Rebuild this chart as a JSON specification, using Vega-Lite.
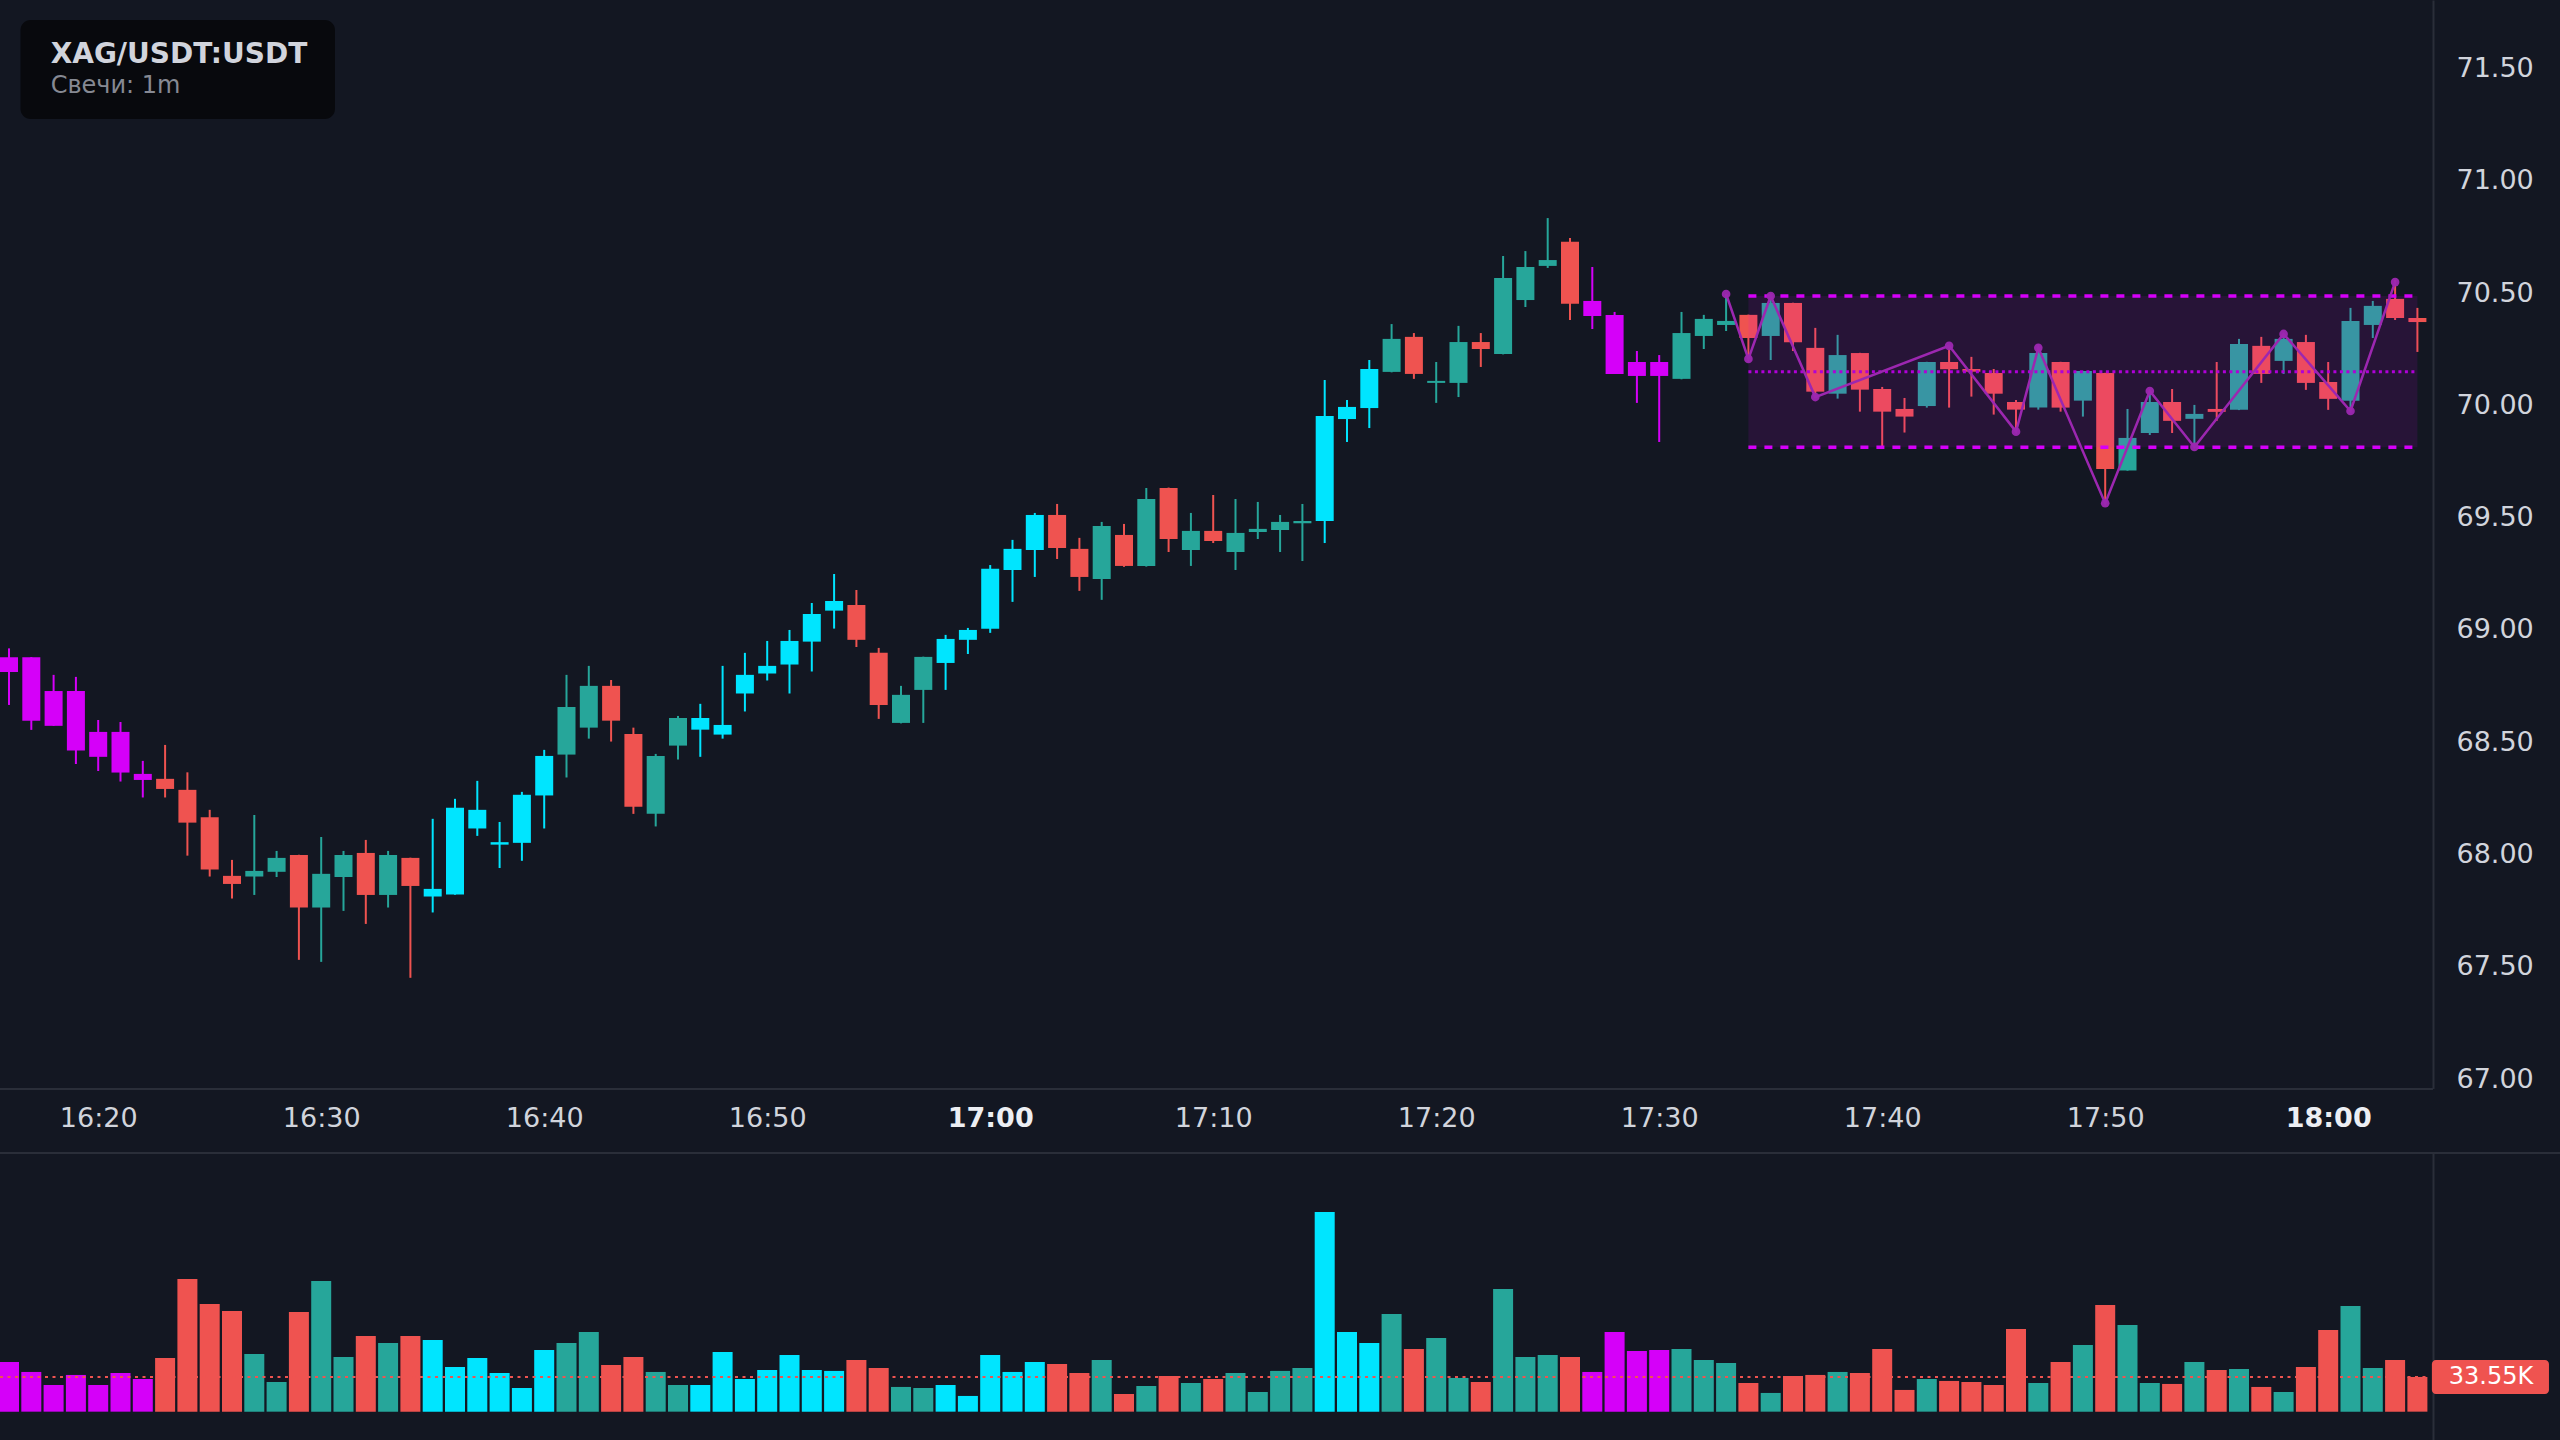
{
"$schema": "https://vega.github.io/schema/vega-lite/v6.json",
"width": 2560,
"height": 1440,
"padding": 0,
"autosize": {"type": "none"},
"background": "#131722",
"config": {"view": {"stroke": null}, "font": "DejaVu Sans", "axis": {"labelFont": "DejaVu Sans"}, "text": {"font": "DejaVu Sans"}, "scale": {"continuousPadding": 0}},
"datasets": {
"candles": [
{"t":"2024-01-01T16:16","o":68.869,"h":68.909,"l":68.657,"c":68.804,"v":48.1,"k":"m"},
{"t":"2024-01-01T16:17","o":68.869,"h":68.870,"l":68.546,"c":68.587,"v":38.4,"k":"m"},
{"t":"2024-01-01T16:18","o":68.719,"h":68.791,"l":68.564,"c":68.564,"v":25.8,"k":"m"},
{"t":"2024-01-01T16:19","o":68.719,"h":68.782,"l":68.394,"c":68.454,"v":35.5,"k":"m"},
{"t":"2024-01-01T16:20","o":68.537,"h":68.590,"l":68.363,"c":68.426,"v":25.8,"k":"m"},
{"t":"2024-01-01T16:21","o":68.537,"h":68.581,"l":68.316,"c":68.356,"v":37.4,"k":"m"},
{"t":"2024-01-01T16:22","o":68.350,"h":68.408,"l":68.245,"c":68.323,"v":31.6,"k":"m"},
{"t":"2024-01-01T16:23","o":68.328,"h":68.479,"l":68.245,"c":68.283,"v":51.9,"k":"r"},
{"t":"2024-01-01T16:24","o":68.279,"h":68.357,"l":67.986,"c":68.133,"v":128.3,"k":"r"},
{"t":"2024-01-01T16:25","o":68.157,"h":68.190,"l":67.893,"c":67.924,"v":104.1,"k":"r"},
{"t":"2024-01-01T16:26","o":67.896,"h":67.967,"l":67.795,"c":67.860,"v":97.4,"k":"r"},
{"t":"2024-01-01T16:27","o":67.893,"h":68.167,"l":67.811,"c":67.918,"v":55.8,"k":"g"},
{"t":"2024-01-01T16:28","o":67.914,"h":68.007,"l":67.891,"c":67.976,"v":28.7,"k":"g"},
{"t":"2024-01-01T16:29","o":67.989,"h":67.990,"l":67.522,"c":67.755,"v":96.4,"k":"r"},
{"t":"2024-01-01T16:30","o":67.755,"h":68.069,"l":67.513,"c":67.905,"v":126.4,"k":"g"},
{"t":"2024-01-01T16:31","o":67.891,"h":68.007,"l":67.740,"c":67.989,"v":52.9,"k":"g"},
{"t":"2024-01-01T16:32","o":67.998,"h":68.056,"l":67.682,"c":67.811,"v":73.2,"k":"r"},
{"t":"2024-01-01T16:33","o":67.811,"h":68.007,"l":67.755,"c":67.989,"v":66.4,"k":"g"},
{"t":"2024-01-01T16:34","o":67.976,"h":67.977,"l":67.442,"c":67.851,"v":73.2,"k":"r"},
{"t":"2024-01-01T16:35","o":67.804,"h":68.150,"l":67.733,"c":67.838,"v":69.3,"k":"b"},
{"t":"2024-01-01T16:36","o":67.813,"h":68.239,"l":67.812,"c":68.199,"v":43.2,"k":"b"},
{"t":"2024-01-01T16:37","o":68.107,"h":68.319,"l":68.074,"c":68.190,"v":51.9,"k":"b"},
{"t":"2024-01-01T16:38","o":68.035,"h":68.136,"l":67.931,"c":68.046,"v":37.4,"k":"b"},
{"t":"2024-01-01T16:39","o":68.043,"h":68.270,"l":67.963,"c":68.257,"v":22.9,"k":"b"},
{"t":"2024-01-01T16:40","o":68.254,"h":68.457,"l":68.107,"c":68.430,"v":59.7,"k":"b"},
{"t":"2024-01-01T16:41","o":68.436,"h":68.791,"l":68.334,"c":68.648,"v":66.4,"k":"g"},
{"t":"2024-01-01T16:42","o":68.556,"h":68.831,"l":68.507,"c":68.742,"v":77.1,"k":"g"},
{"t":"2024-01-01T16:43","o":68.742,"h":68.768,"l":68.494,"c":68.587,"v":45.2,"k":"r"},
{"t":"2024-01-01T16:44","o":68.528,"h":68.556,"l":68.172,"c":68.204,"v":52.9,"k":"r"},
{"t":"2024-01-01T16:45","o":68.173,"h":68.439,"l":68.116,"c":68.430,"v":38.4,"k":"g"},
{"t":"2024-01-01T16:46","o":68.476,"h":68.608,"l":68.414,"c":68.599,"v":25.8,"k":"g"},
{"t":"2024-01-01T16:47","o":68.547,"h":68.662,"l":68.426,"c":68.599,"v":25.8,"k":"b"},
{"t":"2024-01-01T16:48","o":68.525,"h":68.831,"l":68.507,"c":68.568,"v":57.7,"k":"b"},
{"t":"2024-01-01T16:49","o":68.708,"h":68.889,"l":68.628,"c":68.791,"v":31.6,"k":"b"},
{"t":"2024-01-01T16:50","o":68.797,"h":68.942,"l":68.766,"c":68.831,"v":40.3,"k":"b"},
{"t":"2024-01-01T16:51","o":68.837,"h":68.991,"l":68.708,"c":68.942,"v":54.8,"k":"b"},
{"t":"2024-01-01T16:52","o":68.939,"h":69.111,"l":68.806,"c":69.062,"v":40.3,"k":"b"},
{"t":"2024-01-01T16:53","o":69.077,"h":69.240,"l":68.997,"c":69.120,"v":39.4,"k":"b"},
{"t":"2024-01-01T16:54","o":69.102,"h":69.169,"l":68.915,"c":68.947,"v":50.0,"k":"r"},
{"t":"2024-01-01T16:55","o":68.889,"h":68.911,"l":68.595,"c":68.657,"v":42.3,"k":"r"},
{"t":"2024-01-01T16:56","o":68.577,"h":68.742,"l":68.575,"c":68.702,"v":23.9,"k":"g"},
{"t":"2024-01-01T16:57","o":68.724,"h":68.872,"l":68.577,"c":68.871,"v":22.9,"k":"g"},
{"t":"2024-01-01T16:58","o":68.844,"h":68.969,"l":68.724,"c":68.951,"v":25.8,"k":"b"},
{"t":"2024-01-01T16:59","o":68.947,"h":69.000,"l":68.884,"c":68.991,"v":15.2,"k":"b"},
{"t":"2024-01-01T17:00","o":68.996,"h":69.280,"l":68.978,"c":69.263,"v":54.8,"k":"b"},
{"t":"2024-01-01T17:01","o":69.258,"h":69.392,"l":69.116,"c":69.352,"v":38.4,"k":"b"},
{"t":"2024-01-01T17:02","o":69.347,"h":69.512,"l":69.227,"c":69.503,"v":48.1,"k":"b"},
{"t":"2024-01-01T17:03","o":69.503,"h":69.552,"l":69.307,"c":69.356,"v":46.1,"k":"r"},
{"t":"2024-01-01T17:04","o":69.352,"h":69.401,"l":69.165,"c":69.227,"v":37.4,"k":"r"},
{"t":"2024-01-01T17:05","o":69.218,"h":69.472,"l":69.125,"c":69.454,"v":50.0,"k":"g"},
{"t":"2024-01-01T17:06","o":69.414,"h":69.463,"l":69.272,"c":69.276,"v":17.1,"k":"r"},
{"t":"2024-01-01T17:07","o":69.276,"h":69.623,"l":69.273,"c":69.574,"v":24.8,"k":"g"},
{"t":"2024-01-01T17:08","o":69.623,"h":69.625,"l":69.338,"c":69.396,"v":34.5,"k":"r"},
{"t":"2024-01-01T17:09","o":69.347,"h":69.512,"l":69.276,"c":69.432,"v":27.7,"k":"g"},
{"t":"2024-01-01T17:10","o":69.432,"h":69.592,"l":69.378,"c":69.387,"v":31.6,"k":"r"},
{"t":"2024-01-01T17:11","o":69.338,"h":69.574,"l":69.258,"c":69.423,"v":37.4,"k":"g"},
{"t":"2024-01-01T17:12","o":69.427,"h":69.561,"l":69.396,"c":69.441,"v":19.0,"k":"g"},
{"t":"2024-01-01T17:13","o":69.436,"h":69.503,"l":69.338,"c":69.472,"v":39.4,"k":"g"},
{"t":"2024-01-01T17:14","o":69.466,"h":69.552,"l":69.298,"c":69.476,"v":42.3,"k":"g"},
{"t":"2024-01-01T17:15","o":69.476,"h":70.104,"l":69.378,"c":69.944,"v":193.1,"k":"b"},
{"t":"2024-01-01T17:16","o":69.930,"h":70.015,"l":69.828,"c":69.984,"v":77.1,"k":"b"},
{"t":"2024-01-01T17:17","o":69.979,"h":70.193,"l":69.890,"c":70.153,"v":66.4,"k":"b"},
{"t":"2024-01-01T17:18","o":70.140,"h":70.353,"l":70.138,"c":70.287,"v":94.5,"k":"g"},
{"t":"2024-01-01T17:19","o":70.296,"h":70.313,"l":70.109,"c":70.131,"v":60.6,"k":"r"},
{"t":"2024-01-01T17:20","o":70.091,"h":70.184,"l":70.002,"c":70.100,"v":71.3,"k":"g"},
{"t":"2024-01-01T17:21","o":70.091,"h":70.345,"l":70.028,"c":70.273,"v":32.6,"k":"g"},
{"t":"2024-01-01T17:22","o":70.273,"h":70.313,"l":70.162,"c":70.242,"v":28.7,"k":"r"},
{"t":"2024-01-01T17:23","o":70.220,"h":70.656,"l":70.218,"c":70.558,"v":118.6,"k":"g"},
{"t":"2024-01-01T17:24","o":70.460,"h":70.678,"l":70.429,"c":70.607,"v":52.9,"k":"g"},
{"t":"2024-01-01T17:25","o":70.612,"h":70.825,"l":70.603,"c":70.638,"v":54.8,"k":"g"},
{"t":"2024-01-01T17:26","o":70.719,"h":70.736,"l":70.371,"c":70.443,"v":52.9,"k":"r"},
{"t":"2024-01-01T17:27","o":70.456,"h":70.607,"l":70.331,"c":70.389,"v":38.4,"k":"m"},
{"t":"2024-01-01T17:28","o":70.393,"h":70.407,"l":70.131,"c":70.131,"v":77.1,"k":"m"},
{"t":"2024-01-01T17:29","o":70.184,"h":70.233,"l":70.002,"c":70.122,"v":58.7,"k":"m"},
{"t":"2024-01-01T17:30","o":70.184,"h":70.215,"l":69.828,"c":70.122,"v":59.7,"k":"m"},
{"t":"2024-01-01T17:31","o":70.109,"h":70.407,"l":70.107,"c":70.313,"v":60.6,"k":"g"},
{"t":"2024-01-01T17:32","o":70.300,"h":70.394,"l":70.242,"c":70.376,"v":50.0,"k":"g"},
{"t":"2024-01-01T17:33","o":70.349,"h":70.487,"l":70.322,"c":70.367,"v":47.1,"k":"g"},
{"t":"2024-01-01T17:34","o":70.394,"h":70.395,"l":70.198,"c":70.291,"v":27.7,"k":"r"},
{"t":"2024-01-01T17:35","o":70.300,"h":70.478,"l":70.193,"c":70.447,"v":18.1,"k":"g"},
{"t":"2024-01-01T17:36","o":70.447,"h":70.448,"l":70.233,"c":70.272,"v":34.5,"k":"r"},
{"t":"2024-01-01T17:37","o":70.247,"h":70.336,"l":70.024,"c":70.052,"v":35.5,"k":"r"},
{"t":"2024-01-01T17:38","o":70.043,"h":70.305,"l":70.021,"c":70.215,"v":38.4,"k":"g"},
{"t":"2024-01-01T17:39","o":70.224,"h":70.225,"l":69.963,"c":70.061,"v":37.4,"k":"r"},
{"t":"2024-01-01T17:40","o":70.064,"h":70.073,"l":69.807,"c":69.963,"v":60.6,"k":"r"},
{"t":"2024-01-01T17:41","o":69.975,"h":70.024,"l":69.870,"c":69.941,"v":21.0,"k":"r"},
{"t":"2024-01-01T17:42","o":69.988,"h":70.185,"l":69.981,"c":70.184,"v":31.6,"k":"g"},
{"t":"2024-01-01T17:43","o":70.184,"h":70.256,"l":69.981,"c":70.152,"v":29.7,"k":"r"},
{"t":"2024-01-01T17:44","o":70.153,"h":70.207,"l":70.030,"c":70.141,"v":28.7,"k":"r"},
{"t":"2024-01-01T17:45","o":70.135,"h":70.153,"l":69.950,"c":70.043,"v":25.8,"k":"r"},
{"t":"2024-01-01T17:46","o":70.006,"h":70.015,"l":69.874,"c":69.972,"v":80.0,"k":"r"},
{"t":"2024-01-01T17:47","o":69.981,"h":70.247,"l":69.972,"c":70.224,"v":27.7,"k":"g"},
{"t":"2024-01-01T17:48","o":70.184,"h":70.185,"l":69.963,"c":69.981,"v":48.1,"k":"r"},
{"t":"2024-01-01T17:49","o":70.012,"h":70.145,"l":69.941,"c":70.144,"v":64.5,"k":"g"},
{"t":"2024-01-01T17:50","o":70.135,"h":70.136,"l":69.555,"c":69.708,"v":103.2,"k":"r"},
{"t":"2024-01-01T17:51","o":69.701,"h":69.975,"l":69.700,"c":69.846,"v":83.8,"k":"g"},
{"t":"2024-01-01T17:52","o":69.868,"h":70.055,"l":69.859,"c":70.006,"v":27.7,"k":"g"},
{"t":"2024-01-01T17:53","o":70.006,"h":70.064,"l":69.868,"c":69.922,"v":26.8,"k":"r"},
{"t":"2024-01-01T17:54","o":69.931,"h":69.993,"l":69.806,"c":69.953,"v":48.1,"k":"g"},
{"t":"2024-01-01T17:55","o":69.975,"h":70.184,"l":69.922,"c":69.962,"v":40.3,"k":"r"},
{"t":"2024-01-01T17:56","o":69.971,"h":70.287,"l":69.970,"c":70.264,"v":41.3,"k":"g"},
{"t":"2024-01-01T17:57","o":70.256,"h":70.296,"l":70.091,"c":70.131,"v":23.9,"k":"r"},
{"t":"2024-01-01T17:58","o":70.189,"h":70.309,"l":70.131,"c":70.287,"v":19.0,"k":"g"},
{"t":"2024-01-01T17:59","o":70.273,"h":70.305,"l":70.060,"c":70.091,"v":43.2,"k":"r"},
{"t":"2024-01-01T18:00","o":70.095,"h":70.184,"l":69.971,"c":70.020,"v":79.0,"k":"r"},
{"t":"2024-01-01T18:01","o":70.012,"h":70.425,"l":69.966,"c":70.367,"v":102.2,"k":"g"},
{"t":"2024-01-01T18:02","o":70.349,"h":70.456,"l":70.291,"c":70.434,"v":42.3,"k":"g"},
{"t":"2024-01-01T18:03","o":70.465,"h":70.550,"l":70.371,"c":70.380,"v":50.0,"k":"r"},
{"t":"2024-01-01T18:04","o":70.380,"h":70.425,"l":70.229,"c":70.362,"v":33.55,"k":"r"}
],
"zz": [
{"t":"2024-01-01T17:33","p":70.487},
{"t":"2024-01-01T17:34","p":70.198},
{"t":"2024-01-01T17:35","p":70.478},
{"t":"2024-01-01T17:37","p":70.028},
{"t":"2024-01-01T17:43","p":70.256},
{"t":"2024-01-01T17:46","p":69.874},
{"t":"2024-01-01T17:47","p":70.247},
{"t":"2024-01-01T17:50","p":69.555},
{"t":"2024-01-01T17:52","p":70.055},
{"t":"2024-01-01T17:54","p":69.806},
{"t":"2024-01-01T17:58","p":70.309},
{"t":"2024-01-01T18:01","p":69.966},
{"t":"2024-01-01T18:03","p":70.540}
],
"box": [{"t0":"2024-01-01T17:34","t1":"2024-01-01T18:04","lo":69.804,"hi":70.478,"mid":70.141}],
"one": [{}]
},
"layer": [
{
"layer": [
{
"data": {"name": "candles"},
"mark": {"type": "rule", "strokeWidth": 2},
"encoding": {
"x": {"field": "t", "type": "temporal", "title": null,
"scale": {"padding": 0, "domain": [{"year":2024,"month":1,"date":1,"hours":16,"minutes":15,"seconds":35,"milliseconds":780},{"year":2024,"month":1,"date":1,"hours":18,"minutes":10,"seconds":23,"milliseconds":680}]},
"axis": {"orient": "bottom", "offset": -322, "format": "%H:%M",
"values": [{"year":2024,"month":1,"date":1,"hours":16,"minutes":20},{"year":2024,"month":1,"date":1,"hours":16,"minutes":30},{"year":2024,"month":1,"date":1,"hours":16,"minutes":40},{"year":2024,"month":1,"date":1,"hours":16,"minutes":50},{"year":2024,"month":1,"date":1,"hours":17,"minutes":0},{"year":2024,"month":1,"date":1,"hours":17,"minutes":10},{"year":2024,"month":1,"date":1,"hours":17,"minutes":20},{"year":2024,"month":1,"date":1,"hours":17,"minutes":30},{"year":2024,"month":1,"date":1,"hours":17,"minutes":40},{"year":2024,"month":1,"date":1,"hours":17,"minutes":50},{"year":2024,"month":1,"date":1,"hours":18,"minutes":0}],
"labelFontSize": 27, "labelColor": {"condition": {"test": "minutes(datum.value) === 0", "value": "#eceef3"}, "value": "#d1d4dc"},
"labelFontWeight": {"condition": {"test": "minutes(datum.value) === 0", "value": "bold"}, "value": "normal"},
"labelBaseline": "middle", "labelPadding": 0, "ticks": false, "tickSize": 0, "domain": false, "grid": false, "labelFlush": false, "labelOverlap": false, "zindex": 1}},
"y": {"field": "l", "type": "quantitative", "title": null,
"scale": {"padding": 0, "domain": [65.384, 71.796], "nice": false, "zero": false},
"axis": {"orient": "right", "offset": -127, "values": [67, 67.5, 68, 68.5, 69, 69.5, 70, 70.5, 71, 71.5], "format": ".2f",
"labelFontSize": 27, "labelColor": "#d1d4dc", "labelAlign": "left", "labelBaseline": "middle", "labelPadding": 23, "labelOffset": 2,
"ticks": false, "tickSize": 0, "grid": false, "domainColor": "#2a2e39", "domainWidth": 2, "labelFlush": false, "labelOverlap": false, "zindex": 0}},
"y2": {"field": "h"},
"color": {"field": "k", "type": "nominal", "legend": null,
"scale": {"domain": ["r", "g", "b", "m"], "range": ["#ef5350", "#26a69a", "#00e5ff", "#d500f9"]}}
}
},
{
"data": {"name": "candles"},
"mark": {"type": "bar", "width": 18},
"encoding": {
"x": {"field": "t", "type": "temporal", "title": null},
"y": {"field": "o", "type": "quantitative", "title": null},
"y2": {"field": "c"},
"color": {"field": "k", "type": "nominal", "legend": null}
}
},
{
"data": {"name": "box"},
"mark": {"type": "rect", "fill": "#d500f9", "opacity": 0.1},
"encoding": {
"x": {"field": "t0", "type": "temporal", "title": null},
"x2": {"field": "t1"},
"y": {"field": "lo", "type": "quantitative", "title": null},
"y2": {"field": "hi"}
}
},
{
"data": {"name": "box"},
"mark": {"type": "rule", "stroke": "#d500f9", "strokeWidth": 3.5, "strokeDash": [8, 8]},
"encoding": {
"x": {"field": "t0", "type": "temporal", "title": null},
"x2": {"field": "t1"},
"y": {"field": "hi", "type": "quantitative", "title": null}
}
},
{
"data": {"name": "box"},
"mark": {"type": "rule", "stroke": "#d500f9", "strokeWidth": 3.5, "strokeDash": [8, 8]},
"encoding": {
"x": {"field": "t0", "type": "temporal", "title": null},
"x2": {"field": "t1"},
"y": {"field": "lo", "type": "quantitative", "title": null}
}
},
{
"data": {"name": "box"},
"mark": {"type": "rule", "stroke": "#b000d8", "strokeWidth": 3, "strokeDash": [3, 3.5]},
"encoding": {
"x": {"field": "t0", "type": "temporal", "title": null},
"x2": {"field": "t1"},
"y": {"field": "mid", "type": "quantitative", "title": null}
}
},
{
"data": {"name": "zz"},
"mark": {"type": "line", "stroke": "#9c27b0", "strokeWidth": 2.5},
"encoding": {
"x": {"field": "t", "type": "temporal", "title": null},
"y": {"field": "p", "type": "quantitative", "title": null}
}
},
{
"data": {"name": "zz"},
"mark": {"type": "point", "filled": true, "color": "#9c27b0", "size": 75, "opacity": 0.95},
"encoding": {
"x": {"field": "t", "type": "temporal", "title": null},
"y": {"field": "p", "type": "quantitative", "title": null}
}
},
{
"data": {"name": "one"},
"mark": {"type": "rect", "fill": "#08090d", "cornerRadius": 10},
"encoding": {
"x": {"datum": {"year":2024,"month":1,"date":1,"hours":16,"minutes":16,"seconds":31}, "type": "temporal"},
"x2": {"datum": {"year":2024,"month":1,"date":1,"hours":16,"minutes":30,"seconds":37}},
"y": {"datum": 71.707, "type": "quantitative"},
"y2": {"datum": 71.266}
}
},
{
"data": {"name": "one"},
"mark": {"type": "text", "text": "XAG/USDT:USDT", "font": "DejaVu Sans", "fontSize": 28, "fontWeight": "bold", "color": "#d1d4dc", "align": "left", "baseline": "alphabetic"},
"encoding": {
"x": {"datum": {"year":2024,"month":1,"date":1,"hours":16,"minutes":17,"seconds":52}, "type": "temporal"},
"y": {"datum": 71.514, "type": "quantitative"}
}
},
{
"data": {"name": "one"},
"mark": {"type": "text", "text": "Свечи: 1m", "font": "DejaVu Sans", "fontSize": 24, "color": "#868993", "align": "left", "baseline": "alphabetic"},
"encoding": {
"x": {"datum": {"year":2024,"month":1,"date":1,"hours":16,"minutes":17,"seconds":52}, "type": "temporal"},
"y": {"datum": 71.382, "type": "quantitative"}
}
},
{
"data": {"name": "one"},
"mark": {"type": "rect", "fill": "#131722"},
"encoding": {
"x": {"datum": {"year":2024,"month":1,"date":1,"hours":16,"minutes":15,"seconds":35,"milliseconds":780}, "type": "temporal"},
"x2": {"datum": {"year":2024,"month":1,"date":1,"hours":18,"minutes":10,"seconds":23,"milliseconds":680}},
"y": {"datum": 66.947, "type": "quantitative"},
"y2": {"datum": 66.662}
}
},
{
"data": {"name": "one"},
"mark": {"type": "rule", "stroke": "#2a2e39", "strokeWidth": 2},
"encoding": {
"x": {"datum": {"year":2024,"month":1,"date":1,"hours":16,"minutes":15,"seconds":35,"milliseconds":780}, "type": "temporal"},
"x2": {"datum": {"year":2024,"month":1,"date":1,"hours":18,"minutes":4,"seconds":42}},
"y": {"datum": 66.947, "type": "quantitative"}
}
},
{
"data": {"name": "one"},
"mark": {"type": "rule", "stroke": "#2a2e39", "strokeWidth": 2},
"encoding": {
"x": {"datum": {"year":2024,"month":1,"date":1,"hours":16,"minutes":15,"seconds":35,"milliseconds":780}, "type": "temporal"},
"x2": {"datum": {"year":2024,"month":1,"date":1,"hours":18,"minutes":10,"seconds":23,"milliseconds":680}},
"y": {"datum": 66.662, "type": "quantitative"}
}
}
]
},
{
"layer": [
{
"data": {"name": "candles"},
"mark": {"type": "bar", "width": 20},
"encoding": {
"x": {"field": "t", "type": "temporal", "title": null},
"y": {"field": "v", "type": "quantitative", "title": null, "axis": null, "scale": {"padding": 0, "domain": [-27.4, 1365.0], "nice": false, "zero": false}},
"y2": {"datum": 0},
"color": {"field": "k", "type": "nominal", "legend": null}
}
},
{
"data": {"name": "one"},
"mark": {"type": "rule", "stroke": "#ef5350", "strokeWidth": 2, "strokeDash": [3, 4.5]},
"encoding": {
"x": {"datum": {"year":2024,"month":1,"date":1,"hours":16,"minutes":15,"seconds":35,"milliseconds":780}, "type": "temporal"},
"x2": {"datum": {"year":2024,"month":1,"date":1,"hours":18,"minutes":4,"seconds":32}},
"y": {"datum": 33.55, "type": "quantitative", "axis": null}
}
},
{
"data": {"name": "one"},
"mark": {"type": "rect", "fill": "#ef5350", "cornerRadius": 4},
"encoding": {
"x": {"datum": {"year":2024,"month":1,"date":1,"hours":18,"minutes":4,"seconds":39}, "type": "temporal"},
"x2": {"datum": {"year":2024,"month":1,"date":1,"hours":18,"minutes":9,"seconds":54}},
"y": {"datum": 50.0, "type": "quantitative", "axis": null},
"y2": {"datum": 17.1}
}
},
{
"data": {"name": "one"},
"mark": {"type": "text", "text": "33.55K", "font": "DejaVu Sans", "fontSize": 24, "color": "#ffffff", "align": "center", "baseline": "middle"},
"encoding": {
"x": {"datum": {"year":2024,"month":1,"date":1,"hours":18,"minutes":7,"seconds":18}, "type": "temporal"},
"y": {"datum": 33.55, "type": "quantitative", "axis": null}
}
}
]
}
],
"resolve": {"scale": {"y": "independent"}, "axis": {"y": "independent"}}
}
